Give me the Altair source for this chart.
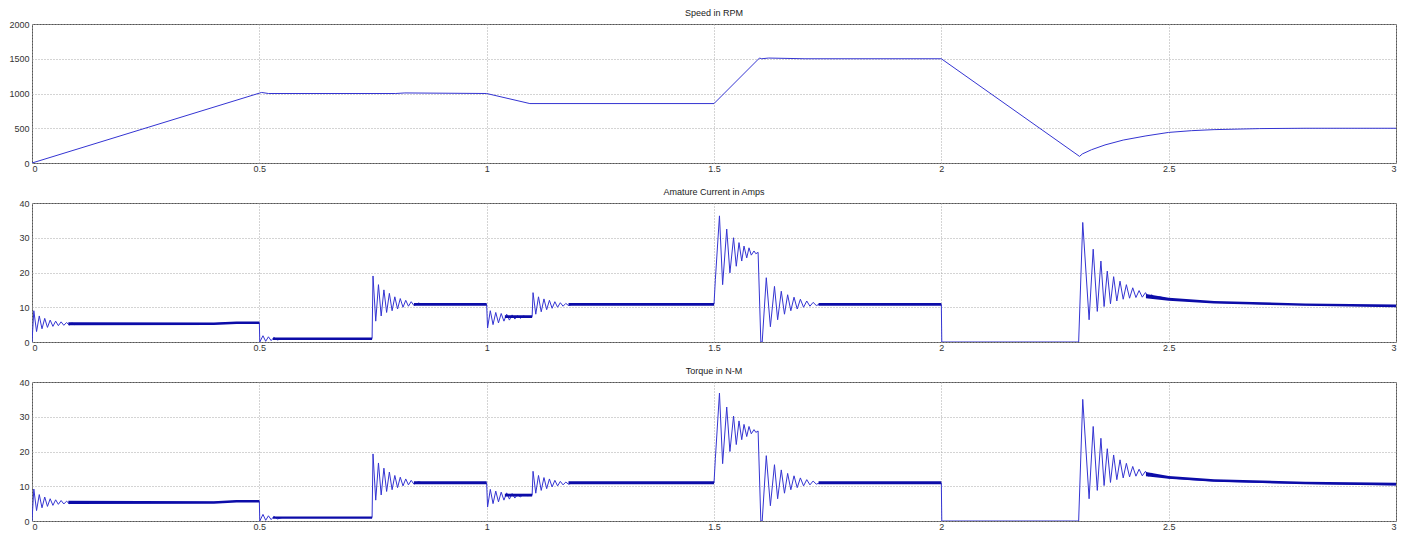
import altair as alt
import pandas as pd

# ---------------- data ----------------
speed_t = [0.0, 0.5, 0.505, 0.52, 0.8, 0.82, 1.0, 1.095, 1.5, 1.6, 1.605, 1.62, 1.7, 2.0,
           2.304, 2.31, 2.33, 2.36, 2.4, 2.45, 2.5, 2.55, 2.6, 2.7, 2.8, 3.0]
speed_v = [0, 1005, 1015, 1000, 1000, 1008, 1000, 855, 855, 1510, 1500, 1510, 1500, 1500,
           95, 130, 190, 260, 330, 390, 440, 465, 480, 495, 500, 500]

cur_t = [0.000, 0.004, 0.010, 0.016, 0.022, 0.028, 0.034, 0.040, 0.046, 0.052, 0.058, 0.064,
         0.070, 0.076, 0.082, 0.088, 0.094, 0.100, 0.400, 0.450, 0.500,
         0.501, 0.508, 0.514, 0.520, 0.526, 0.532, 0.540, 0.550, 0.748,
         0.750, 0.756, 0.762, 0.768, 0.774, 0.780, 0.786, 0.792, 0.798, 0.804, 0.810, 0.816,
         0.822, 0.828, 0.834, 0.840, 0.850, 0.860, 1.000,
         1.002, 1.008, 1.014, 1.020, 1.026, 1.032, 1.038, 1.044, 1.050, 1.056, 1.062, 1.068,
         1.074, 1.080, 1.090, 1.100,
         1.102, 1.108, 1.114, 1.120, 1.126, 1.132, 1.138, 1.144, 1.150, 1.156, 1.162, 1.168,
         1.174, 1.180, 1.190, 1.200, 1.500,
         1.503, 1.512, 1.519, 1.528, 1.535, 1.543, 1.549, 1.555, 1.561, 1.566, 1.572, 1.577,
         1.582, 1.588, 1.592, 1.597, 1.603, 1.606,
         1.615, 1.624, 1.633, 1.640, 1.648, 1.655, 1.662, 1.669, 1.676, 1.683, 1.690, 1.697,
         1.704, 1.711, 1.718, 1.725, 1.735, 1.750, 2.000,
         2.001, 2.302,
         2.311, 2.325, 2.334, 2.343, 2.351, 2.358, 2.365, 2.372, 2.379, 2.386, 2.393, 2.400,
         2.407, 2.414, 2.421, 2.428, 2.435, 2.442, 2.449, 2.456, 2.463, 2.470, 2.480, 2.500,
         2.550, 2.600, 2.700, 2.800, 2.900, 3.000]
cur_v = [0.0, 9.0, 3.0, 7.5, 3.8, 6.8, 4.2, 6.3, 4.5, 6.0, 4.7, 5.8,
         4.8, 5.6, 4.9, 5.5, 5.0, 5.3, 5.3, 5.6, 5.6,
         0.0, 1.8, 0.2, 1.5, 0.4, 1.3, 0.6, 1.0, 1.0,
         19.0, 6.0, 16.5, 7.5, 15.0, 8.5, 14.0, 9.0, 13.0, 9.5, 12.5, 10.0,
         12.0, 10.3, 11.6, 10.5, 11.2, 10.8, 10.8,
         4.0, 9.0, 5.0, 8.5, 5.5, 8.2, 6.0, 8.0, 6.3, 7.8, 6.6, 7.6,
         6.8, 7.5, 7.2, 7.3,
         14.2, 8.0, 13.0, 8.7, 12.4, 9.3, 12.0, 9.7, 11.6, 10.0, 11.3, 10.3,
         11.1, 10.5, 10.9, 10.8, 10.8,
         18.0, 36.3, 16.5, 32.5, 19.9, 30.0, 21.8, 28.6, 23.3, 27.6, 24.2, 27.1,
         25.0, 26.2, 25.4, 25.8, 0.0, 0.0,
         18.5, 4.4, 16.0, 6.4, 14.6, 8.0, 13.6, 9.0, 12.9, 9.5, 12.3, 10.0,
         11.8, 10.3, 11.4, 10.5, 11.0, 10.8, 10.8,
         0.0, 0.0,
         34.4, 6.4, 26.7, 8.8, 23.3, 10.2, 20.4, 11.0, 18.8, 11.8, 17.5, 12.3,
         16.5, 12.6, 15.6, 12.8, 14.8, 12.9, 14.2, 12.8, 13.6, 12.7, 13.0, 12.3,
         11.8, 11.4, 11.0, 10.7, 10.5, 10.3]

trq_v = [0.0, 9.2, 3.0, 7.6, 3.8, 6.9, 4.2, 6.4, 4.5, 6.1, 4.8, 5.9,
         4.9, 5.7, 5.0, 5.6, 5.1, 5.4, 5.4, 5.7, 5.7,
         0.0, 1.9, 0.2, 1.5, 0.4, 1.3, 0.6, 1.0, 1.0,
         19.3, 6.0, 16.7, 7.5, 15.2, 8.5, 14.1, 9.0, 13.1, 9.6, 12.6, 10.1,
         12.1, 10.4, 11.7, 10.6, 11.3, 10.9, 10.9,
         4.0, 9.1, 5.0, 8.6, 5.5, 8.3, 6.0, 8.1, 6.3, 7.9, 6.6, 7.7,
         6.9, 7.6, 7.3, 7.4,
         14.3, 8.0, 13.1, 8.8, 12.5, 9.3, 12.1, 9.8, 11.7, 10.1, 11.4, 10.4,
         11.2, 10.6, 11.0, 10.9, 10.9,
         18.0, 36.8, 16.5, 32.8, 20.0, 30.2, 22.0, 28.8, 23.4, 27.8, 24.3, 27.2,
         25.1, 26.3, 25.5, 25.9, 0.0, 0.0,
         18.8, 4.4, 16.2, 6.4, 14.7, 8.0, 13.7, 9.0, 13.0, 9.6, 12.4, 10.1,
         11.9, 10.4, 11.5, 10.6, 11.1, 10.9, 10.9,
         0.0, 0.0,
         35.0, 6.4, 27.2, 8.8, 23.8, 10.2, 20.8, 11.1, 19.0, 11.9, 17.6, 12.4,
         16.6, 12.7, 15.7, 12.9, 14.9, 13.0, 14.3, 12.9, 13.7, 12.8, 13.1, 12.4,
         11.9, 11.5, 11.1, 10.8, 10.6, 10.4]

# steady-state ripple envelope (thick band) segments
band_seg = ["a", "a", "a", "a", "b", "b", "c", "c", "d", "d", "e", "e", "f", "f",
            "g", "g", "g", "g", "g"]
band_t = [0.08, 0.40, 0.45, 0.50, 0.53, 0.748, 0.84, 1.00, 1.04, 1.10, 1.18, 1.50,
          1.73, 2.00, 2.45, 2.50, 2.60, 2.80, 3.00]
band_lo = [4.8, 4.9, 5.2, 5.2, 0.6, 0.6, 10.4, 10.4, 6.9, 6.9, 10.4, 10.4,
           10.4, 10.4, 12.6, 11.9, 11.1, 10.4, 10.0]
band_hi = [5.7, 5.6, 5.9, 5.9, 1.3, 1.3, 11.2, 11.2, 7.7, 7.7, 11.2, 11.2,
           11.2, 11.2, 13.8, 12.7, 11.8, 11.1, 10.8]

x_ticks = [0, 0.5, 1, 1.5, 2, 2.5, 3]

# ---------------- chart ----------------
LINE = "#3434d2"
BAND = "#0c0ca8"
W, H = 1364, 139
FONT = "Liberation Sans"

speed_df = pd.DataFrame({"t": speed_t, "v": speed_v})
cur_df = pd.DataFrame({"t": cur_t, "v": cur_v})
trq_df = pd.DataFrame({"t": cur_t, "v": trq_v})
band_df = pd.DataFrame({"seg": band_seg, "t": band_t, "lo": band_lo, "hi": band_hi})


def xenc():
    return alt.X("t:Q", scale=alt.Scale(domain=[0, 3], nice=False),
                 axis=alt.Axis(values=x_ticks, title=None, format="~g",
                               labelOverlap=False, labelPadding=1))


def panel(df, title, ymax, ystep, band=None, bandscale=1.0):
    yvals = list(range(0, ymax + 1, ystep))
    ysc = alt.Scale(domain=[0, ymax], nice=False, clamp=True)
    yax = alt.Axis(values=yvals, title=None, format="d", labelOverlap=False)
    line = alt.Chart(df).mark_line(color=LINE, strokeWidth=1, clip=True).encode(
        x=xenc(),
        y=alt.Y("v:Q", scale=ysc, axis=yax),
    )
    layers = [line]
    if band is not None:
        b = band.copy()
        b["lo"] = b["lo"] * bandscale
        b["hi"] = b["hi"] * bandscale
        area = alt.Chart(b).mark_area(color=BAND, opacity=1, clip=True).encode(
            x=xenc(),
            y=alt.Y("lo:Q", scale=ysc, axis=yax),
            y2="hi:Q",
            detail="seg:N",
        )
        layers.append(area)
    return alt.layer(*layers).properties(
        width=W, height=H,
        title=alt.TitleParams(title, fontSize=9, font=FONT, fontWeight="normal",
                              color="#222", offset=2, anchor="middle"),
    )


p1 = panel(speed_df, "Speed in RPM", 2000, 500)
p2 = panel(cur_df, "Amature Current in Amps", 40, 10, band_df)
p3 = panel(trq_df, "Torque in N-M", 40, 10, band_df, 1.02)

chart = alt.vconcat(p1, p2, p3, spacing=13).properties(
    padding={"left": 0, "top": 0, "right": 5, "bottom": 0},
    background="white",
).configure_view(
    stroke="#555555", strokeWidth=1,
).configure_axis(
    grid=True, gridColor="#a8a8a8", gridDash=[1, 2], gridWidth=1,
    domain=False, ticks=False, labelFont=FONT, labelFontSize=9,
    labelColor="#333", labelPadding=3,
)

chart.save("out.html", embed_options={"renderer": "svg", "actions": False})
